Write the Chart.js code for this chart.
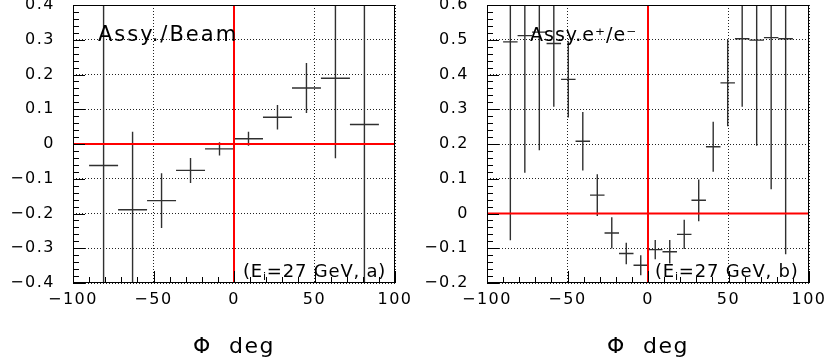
<!DOCTYPE html>
<html>
<head>
<meta charset="utf-8">
<script src="https://cdn.jsdelivr.net/npm/chart.js@4.4.1/dist/chart.umd.min.js"></script>
<style>
html, body { margin: 0; padding: 0; background: #fff; }
#wrap { position: relative; width: 829px; height: 364px; }
.panel { position: absolute; top: 0; height: 364px; }
#left { left: 0; width: 414px; }
#right { left: 414px; width: 415px; }
</style>
</head>
<body>
<div id="wrap">
  <div class="panel" id="left"><canvas id="chartA"></canvas></div>
  <div class="panel" id="right"><canvas id="chartB"></canvas></div>
</div>
<script>
// panel (a): Assy./Beam, 18 deg bins
const phiA  = [-81, -63, -45, -27, -9, 9, 27, 45, 63, 81];
const asymA = [-0.062, -0.189, -0.163, -0.076, -0.014, 0.015, 0.077, 0.161, 0.189, 0.056];
const errA  = [0.90, 0.224, 0.079, 0.036, 0.019, 0.020, 0.035, 0.072, 0.230, 0.90];
const halfBinA = 9;

// panel (b): Assy.e+/e-, 9 deg bins
const phiB  = [-85.5, -76.5, -67.5, -58.5, -49.5, -40.5, -31.5, -22.5, -13.5, -4.5,
               4.5, 13.5, 22.5, 31.5, 40.5, 49.5, 58.5, 67.5, 76.5, 85.5];
const asymB = [0.494, 0.512, 0.522, 0.489, 0.386, 0.208, 0.053, -0.056, -0.115, -0.149,
               -0.104, -0.110, -0.060, 0.038, 0.192, 0.376, 0.503, 0.499, 0.506, 0.503];
const errB  = [0.571, 0.395, 0.340, 0.182, 0.110, 0.084, 0.060, 0.045, 0.031, 0.029,
               0.028, 0.034, 0.042, 0.060, 0.072, 0.125, 0.196, 0.304, 0.436, 0.620];
const halfBinB = 4.5;

// tick labels
const phiTicks = [-100, -50, 0, 50, 100];
const yTicksA = [-0.4, -0.3, -0.2, -0.1, 0, 0.1, 0.2, 0.3, 0.4];
const yTicksB = [-0.2, -0.1, 0, 0.1, 0.2, 0.3, 0.4, 0.5, 0.6];

Chart.defaults.font.family = 'DejaVu Sans';
Chart.defaults.color = '#000';

function fmt(v) {
    if (v === 0) return '0';
    return String(v).replace('-', '\u2212');
}

// error crosses, red zero lines, frame and minor ticks
const physPlugin = {
    id: 'phys',
    beforeDraw(chart) {
        chart.ctx.letterSpacing = '1.5px';
    },
    afterDatasetsDraw(chart) {
        const ctx = chart.ctx;
        const a = chart.chartArea;
        const xs = chart.scales.x, ys = chart.scales.y;
        ctx.save();
        ctx.beginPath();
        ctx.rect(a.left, a.top, a.right - a.left, a.bottom - a.top);
        ctx.clip();

        // crosses
        ctx.strokeStyle = '#303030';
        ctx.lineWidth = 1.4;
        chart.data.datasets.forEach(ds => {
            ds.data.forEach(p => {
                const px = xs.getPixelForValue(p.x);
                const py = ys.getPixelForValue(p.y);
                ctx.beginPath();
                ctx.moveTo(xs.getPixelForValue(p.x - ds.halfBin), py);
                ctx.lineTo(xs.getPixelForValue(p.x + ds.halfBin), py);
                ctx.moveTo(px, ys.getPixelForValue(p.y - p.e));
                ctx.lineTo(px, ys.getPixelForValue(p.y + p.e));
                ctx.stroke();
            });
        });

        // red zero lines
        ctx.strokeStyle = '#ff0000';
        ctx.lineWidth = 2;
        const x0 = xs.getPixelForValue(0), y0 = ys.getPixelForValue(0);
        ctx.beginPath();
        ctx.moveTo(x0, a.top); ctx.lineTo(x0, a.bottom);
        ctx.moveTo(a.left, y0); ctx.lineTo(a.right, y0);
        ctx.stroke();
        ctx.restore();

        // frame
        ctx.save();
        ctx.strokeStyle = '#000';
        ctx.lineWidth = 1;
        ctx.strokeRect(Math.round(a.left) + 0.5, Math.round(a.top) + 0.5,
                       Math.round(a.right - a.left) - 1, Math.round(a.bottom - a.top) - 1);

        // ticks inside the frame, left and bottom
        ctx.beginPath();
        const nx = Math.round((xs.max - xs.min) / 10);
        for (let i = 0; i <= nx; i++) {
            const v = xs.min + i * 10;
            const px = Math.round(xs.getPixelForValue(v)) + 0.5;
            const len = (v % 50 === 0) ? 12 : 6;
            ctx.moveTo(px, a.bottom);
            ctx.lineTo(px, a.bottom - len);
        }
        const ny = Math.round((ys.max - ys.min) / 0.02);
        for (let i = 0; i <= ny; i++) {
            const py = Math.round(ys.getPixelForValue(ys.min + i * 0.02)) + 0.5;
            const len = (i % 5 === 0) ? 12 : 6;
            ctx.moveTo(a.left, py);
            ctx.lineTo(a.left + len, py);
        }
        ctx.stroke();
        ctx.restore();
    },
    afterDraw(chart) {
        const notes = chart.options.plugins.phys.notes;
        const ctx = chart.ctx;
        ctx.save();
        ctx.fillStyle = '#000';
        ctx.textBaseline = 'alphabetic';
        ctx.textAlign = 'left';
        notes.forEach(n => {
            let x = n.x;
            ctx.letterSpacing = n.spacing + 'px';
            n.parts.forEach(p => {
                ctx.font = p.size + 'px "DejaVu Sans"';
                ctx.fillText(p.t, x, n.y + (p.dy || 0));
                x += ctx.measureText(p.t).width;
            });
        });
        ctx.restore();
    }
};

function makeChart(id, phi, asym, err, halfBin, yMin, yMax, yTicks, notes, padRight) {
    return new Chart(document.getElementById(id), {
        type: 'scatter',
        data: {
            datasets: [{
                data: phi.map((x, i) => ({ x: x, y: asym[i], e: err[i] })),
                halfBin: halfBin,
                pointRadius: 0,
                pointHoverRadius: 0,
                showLine: false
            }]
        },
        options: {
            responsive: true,
            maintainAspectRatio: false,
            animation: false,
            devicePixelRatio: 1,
            layout: { padding: { left: 0, right: padRight, top: 5, bottom: 0 } },
            plugins: {
                legend: { display: false },
                tooltip: { enabled: false },
                phys: { notes: notes }
            },
            scales: {
                x: {
                    type: 'linear',
                    min: -100,
                    max: 100,
                    afterBuildTicks: s => { s.ticks = phiTicks.map(v => ({ value: v })); },
                    afterFit: s => { s.height = 81; s.paddingLeft = 0; s.paddingRight = 0; },
                    ticks: {
                        callback: fmt,
                        font: { size: 16 },
                        padding: 7,
                        maxRotation: 0,
                        autoSkip: false
                    },
                    grid: { color: '#222', lineWidth: 1, drawTicks: false },
                    border: { display: false, dash: [1, 2] },
                    title: {
                        display: true,
                        text: '\u03A6  deg',
                        font: { size: 22 },
                        padding: { top: 0, bottom: 4 }
                    }
                },
                y: {
                    min: yMin,
                    max: yMax,
                    afterBuildTicks: s => { s.ticks = yTicks.map(v => ({ value: v })); },
                    afterFit: s => { s.width = 73; s.paddingTop = 0; s.paddingBottom = 0; },
                    ticks: {
                        callback: fmt,
                        font: { size: 16 },
                        padding: 18
                    },
                    grid: { color: '#222', lineWidth: 1, drawTicks: false },
                    border: { display: false, dash: [1, 2] }
                }
            }
        },
        plugins: [physPlugin]
    });
}

makeChart('chartA', phiA, asymA, errA, halfBinA, -0.4, 0.4, yTicksA, [
    { x: 98, y: 41, spacing: 2, parts: [{ t: 'Assy./Beam', size: 21 }] },
    { x: 243, y: 277, spacing: 0.8, parts: [
        { t: '(E', size: 18 }, { t: 'i', size: 11, dy: 3 }, { t: '=27 GeV, a)', size: 18 }] }
], 19);

makeChart('chartB', phiB, asymB, errB, halfBinB, -0.2, 0.6, yTicksB, [
    { x: 116, y: 41, spacing: 1, parts: [{ t: 'Assy.e\u207A/e\u207B', size: 19 }] },
    { x: 241, y: 277, spacing: 0.8, parts: [
        { t: '(E', size: 18 }, { t: 'i', size: 11, dy: 3 }, { t: '=27 GeV, b)', size: 18 }] }
], 20);
</script>
</body>
</html>
